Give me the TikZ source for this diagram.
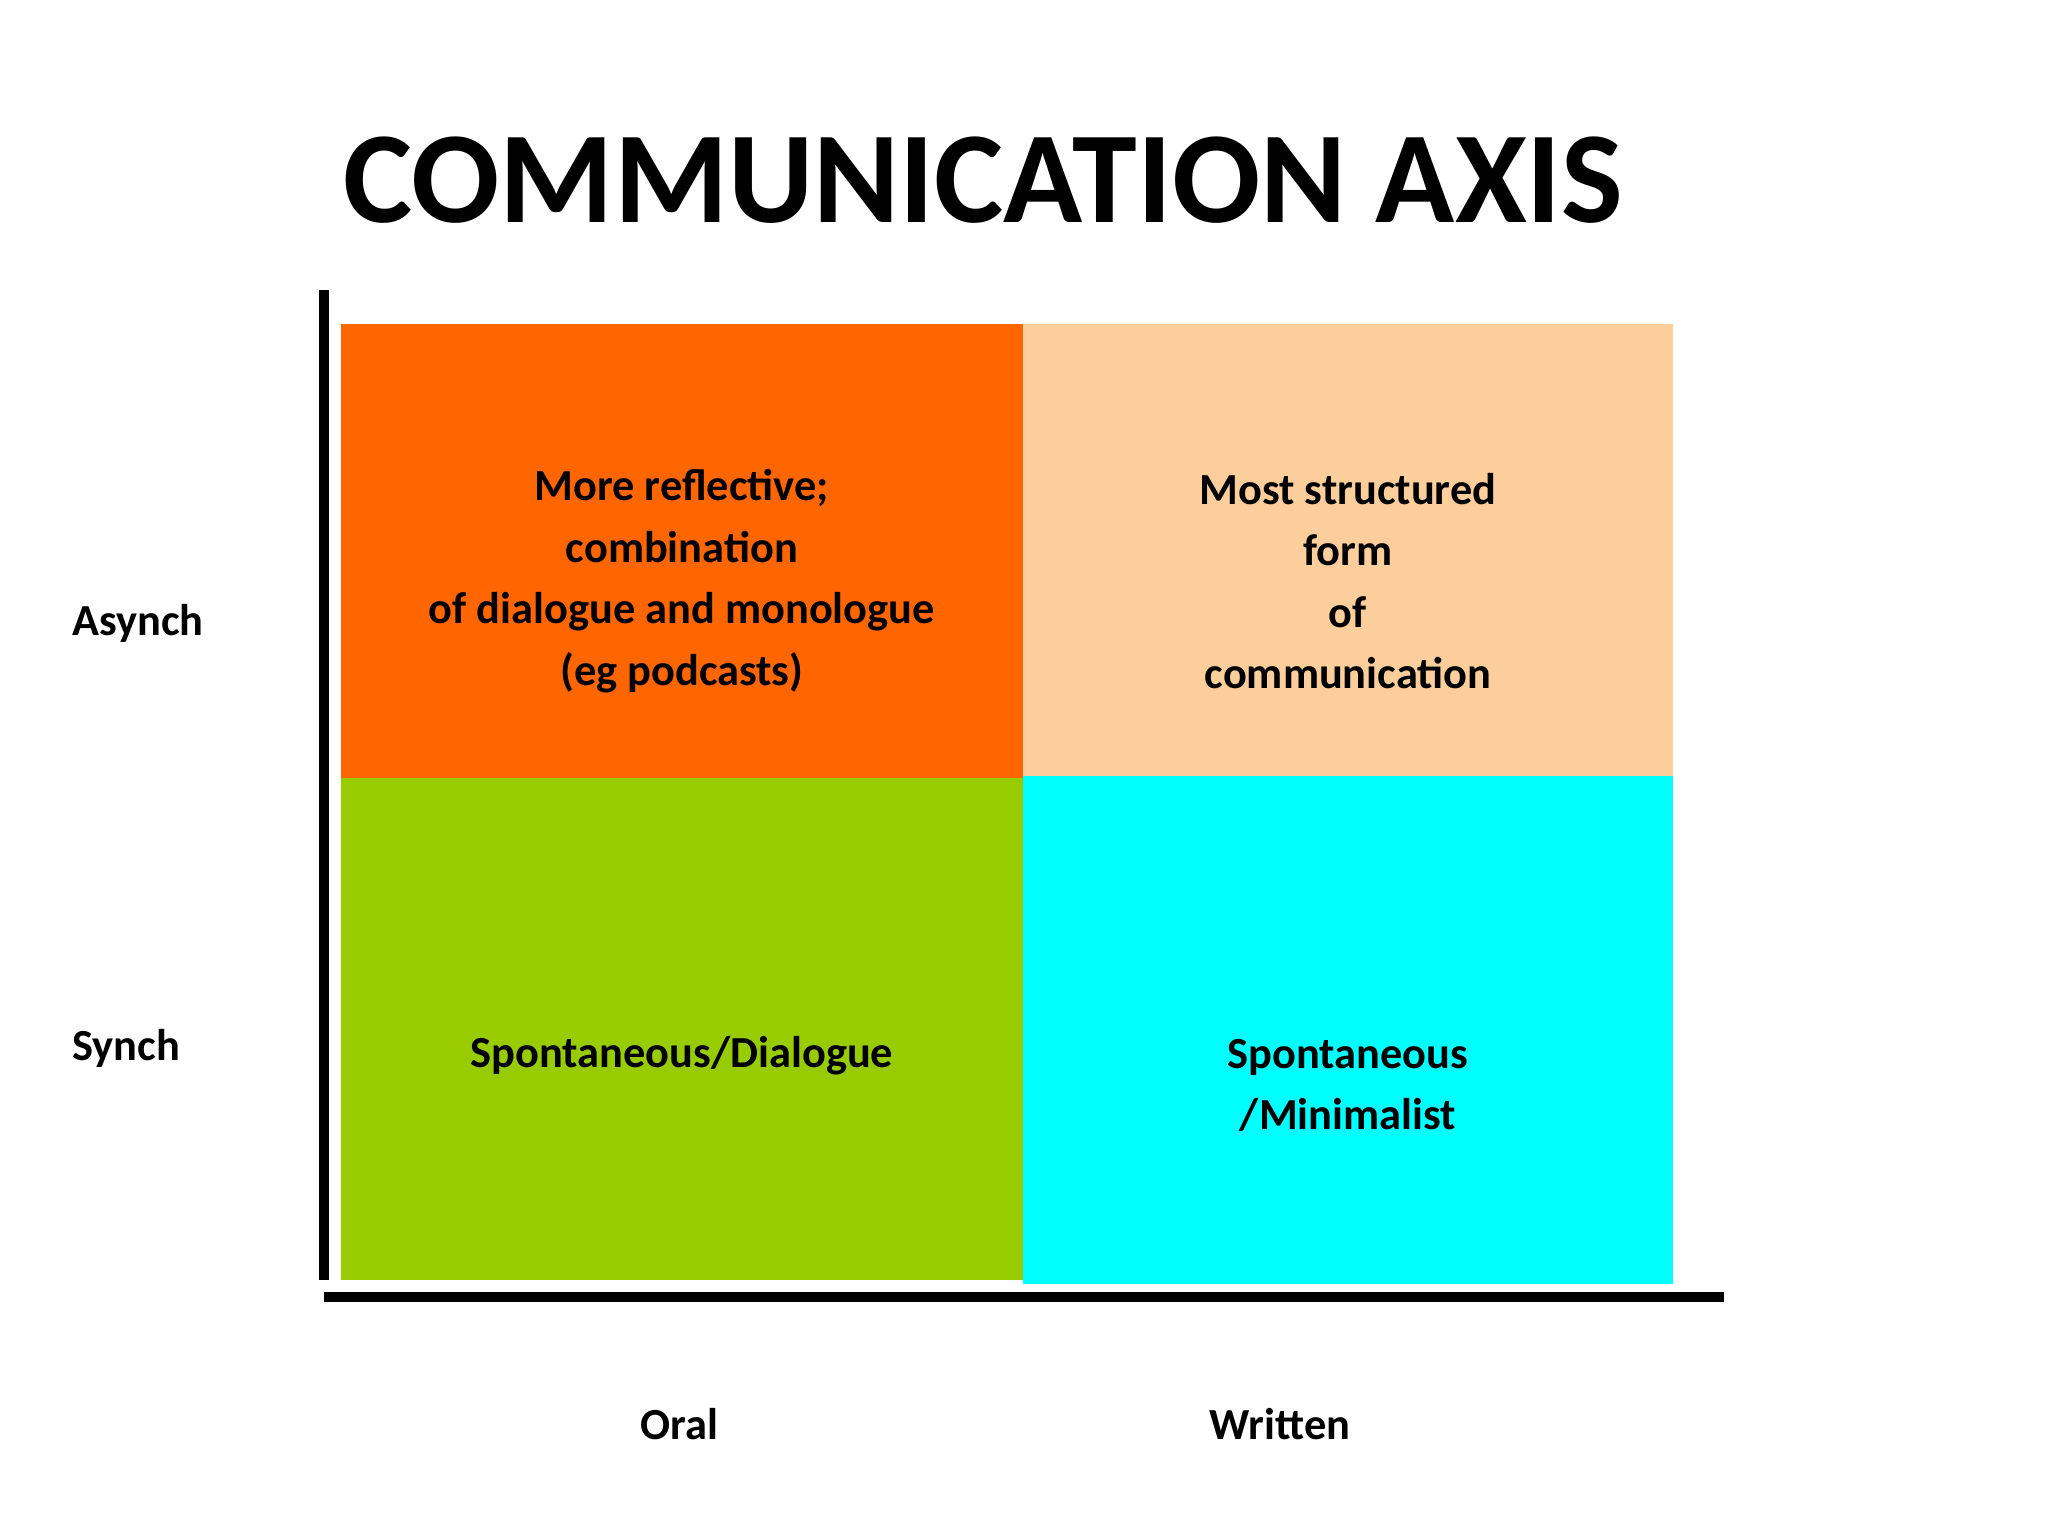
\documentclass[tikz,border=0pt]{standalone}
\usepackage{fontspec}
\setmainfont{Carlito}
\definecolor{qorange}{HTML}{FF6600}
\definecolor{qpeach}{HTML}{FBCE9B}
\definecolor{qgreen}{HTML}{99CC00}
\definecolor{qcyan}{HTML}{00FFFF}
\begin{document}
\begin{tikzpicture}[x=0.5pt,y=-0.5pt,
  lbl/.style={font=\bfseries\fontsize{17}{23.5}\selectfont,align=center,inner sep=0pt},
  axis/.style={line width=4pt}]
\useasboundingbox (0,0) rectangle (1568,1176);
\fill[white] (0,0) rectangle (1568,1176);
\node[font=\bfseries\fontsize{50}{56}\selectfont,inner sep=0pt] (title) at (753,138) {COMMUNICATION AXIS};
\fill[qorange] (261,248) rectangle (783,596);
\fill[qpeach] (783,248) rectangle (1281,594);
\fill[qgreen] (261,596) rectangle (783,980);
\fill[qcyan] (783,594) rectangle (1281,983);
\coordinate (vt) at (248,222); \coordinate (vb) at (248,980);
\coordinate (hl) at (248,993); \coordinate (hr) at (1320,993);
\draw[axis] (vt) -- (vb);
\draw[axis] (hl) -- (hr);
\node[lbl] (q1) at (522,445) {More reflective;\\combination\\of dialogue and monologue\\(eg podcasts)};
\node[lbl] (q2) at (1032,445) {Most structured\\form\\of\\communication};
\node[lbl] (q3) at (522,808) {Spontaneous/Dialogue};
\node[lbl] (q4) at (1032,831) {Spontaneous\\/Minimalist};
\node[lbl,anchor=west] (as) at (55,477) {Asynch};
\node[lbl,anchor=west] (sy) at (55,803) {Synch};
\node[lbl] (or) at (520,1090) {Oral};
\node[lbl] (wr) at (980,1090) {Written};
\end{tikzpicture}
\end{document}
